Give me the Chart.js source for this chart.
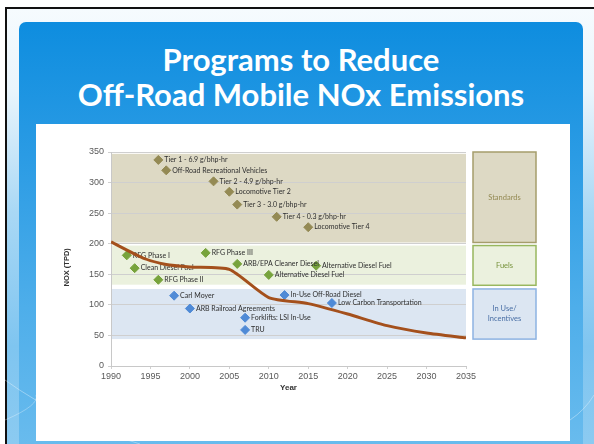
<!DOCTYPE html>
<html>
<head>
<meta charset="utf-8">
<script src="https://cdn.jsdelivr.net/npm/chart.js@4/dist/chart.umd.min.js"></script>
<style>
  html, body { margin:0; padding:0; }
  body { width:594px; height:444px; overflow:hidden; background:#ffffff; position:relative; font-family:"Lato", sans-serif; }
  #frame { position:absolute; left:5px; top:7px; width:600px; height:450px; border-left:2px solid #111; border-top:2px solid #111;
    background:linear-gradient(to bottom, #f6fbfe 0%, #eaf5fc 18%, #a9d8f5 45%, #7fc5f0 75%, #8dcbf1 100%); }
  #panel { position:absolute; left:19px; top:22px; width:564px; height:440px; border-radius:7px 7px 0 0;
    background:linear-gradient(to bottom, #0e8ddf 0%, #2a9be4 30%, #4eaeea 65%, #6cbdee 100%); }
  #title { position:absolute; left:19px; top:42px; width:564px; text-align:center; color:#ffffff;
    font-family:"Lato", sans-serif; font-weight:bold; font-size:31px; line-height:35px; }
  #white { position:absolute; left:36px; top:124px; width:534px; height:317px; background:#ffffff; }
  #wrap { position:absolute; left:36px; top:124px; width:534px; height:318px; }
  svg.deco { position:absolute; left:0; top:0; }
</style>
</head>
<body>
<div id="frame"></div>
<div id="panel"></div>
<svg class="deco" width="594" height="444">
  <path d="M5 380 Q 60 420 140 444" stroke="rgba(255,255,255,0.35)" stroke-width="1" fill="none"/>
  <path d="M5 420 Q 40 405 36 395" stroke="rgba(255,255,255,0.3)" stroke-width="1" fill="none"/>
  <path d="M570 420 Q 585 410 594 395" stroke="rgba(255,255,255,0.35)" stroke-width="1" fill="none"/>
</svg>
<div id="title">Programs to Reduce<br>Off-Road Mobile NOx Emissions</div>
<div id="white"></div>
<div id="wrap"><canvas id="c" width="534" height="318"></canvas></div>
<script>
// ---- Data ----
const standardsLabels = ['Tier 1 - 6.9 g/bhp-hr','Off-Road Recreational Vehicles','Tier 2 - 4.9 g/bhp-hr','Locomotive Tier 2','Tier 3 - 3.0 g/bhp-hr','Tier 4 - 0.3 g/bhp-hr','Locomotive Tier 4'];
const standardsYears  = [1996, 1997, 2003, 2005, 2006, 2011, 2015];
const standardsValues = [337, 320, 302, 285, 264, 244, 227];

const fuelsLabels = ['RFG Phase I','Clean Diesel Fuel','RFG Phase II','RFG Phase III','ARB/EPA Cleaner Diesel','Alternative Diesel Fuel','Alternative Diesel Fuel'];
const fuelsYears  = [1992, 1993, 1996, 2002, 2006, 2010, 2016];
const fuelsValues = [181, 160, 141, 185, 167, 149, 164];

const inUseLabels = ['Carl Moyer','ARB Railroad Agreements','Forklifts: LSI In-Use','TRU','In-Use Off-Road Diesel','Low Carbon Transportation'];
const inUseYears  = [1998, 2000, 2007, 2007, 2012, 2018];
const inUseValues = [115, 94, 79, 59, 116, 103];

const trendYears  = [1990, 1994, 1997, 2000, 2005, 2010, 2015, 2020, 2025, 2030, 2035];
const trendValues = [203, 177, 166, 162, 158, 112, 102, 85, 66, 54, 46];

const bandNames  = ['Standards', 'Fuels', 'In Use/\nIncentives'];
const bandRanges = [[202, 347], [133, 197], [44, 126]];
const boxRanges  = [[202, 350], [132, 197], [44, 126]];

const xTickValues = [1990, 1995, 2000, 2005, 2010, 2015, 2020, 2025, 2030, 2035];

// ---- Styles ----
const bandFills   = ['#ddd9c4', '#ebf1de', '#dce6f2'];
const boxBorders  = ['#a59d6b', '#98b75e', '#8db3e2'];
const boxText     = ['#948a54', '#77933c', '#4a6fa5'];
const pointColors = ['#948a54', '#77a33c', '#4f8ad6'];

function pts(xs, ys) { return xs.map((x, i) => ({x: x, y: ys[i]})); }

const bandsPlugin = {
  id: 'bands',
  beforeDraw(chart) {
    const {ctx, chartArea: a, scales: {y}} = chart;
    ctx.save();
    bandRanges.forEach((r, i) => {
      const top = y.getPixelForValue(r[1]), bot = y.getPixelForValue(r[0]);
      ctx.fillStyle = bandFills[i];
      ctx.fillRect(a.left + 1, top, a.right - a.left - 1, bot - top);
    });
    boxRanges.forEach((r, i) => {
      const top = y.getPixelForValue(r[1]), bot = y.getPixelForValue(r[0]);
      const bx = a.right + 7, bw = 63;
      ctx.fillStyle = bandFills[i];
      ctx.fillRect(bx, top, bw, bot - top);
      ctx.strokeStyle = boxBorders[i];
      ctx.lineWidth = 1.5;
      ctx.strokeRect(bx, top, bw, bot - top);
      ctx.fillStyle = boxText[i];
      ctx.font = '7.5px Lato, sans-serif';
      ctx.textAlign = 'center';
      ctx.textBaseline = 'middle';
      const lines = bandNames[i].split('\n');
      const cy = (top + bot) / 2;
      lines.forEach((t, k) => ctx.fillText(t, bx + bw / 2, cy + (k - (lines.length - 1) / 2) * 10));
    });
    ctx.restore();
  }
};

const labelsPlugin = {
  id: 'ptlabels',
  afterDatasetDraw(chart, args) {
    const ds = chart.data.datasets[args.index];
    if (!ds.pointLabels) return;
    const ctx = chart.ctx;
    ctx.save();
    ctx.font = '7px Lato, sans-serif';
    ctx.fillStyle = '#2e2e2e';
    ctx.textAlign = 'left';
    ctx.textBaseline = 'middle';
    args.meta.data.forEach((el, i) => ctx.fillText(ds.pointLabels[i], el.x + 6, el.y));
    ctx.restore();
  }
};

const tickFont = {family: '"Liberation Sans", Arial, sans-serif', size: 9};

new Chart(document.getElementById('c'), {
  type: 'scatter',
  data: {
    datasets: [
      { label: 'NOx', type: 'line', data: pts(trendYears, trendValues), borderColor: '#a4501c', borderWidth: 3,
        pointRadius: 0, tension: 0.2, fill: false, order: 0 },
      { label: 'Standards', data: pts(standardsYears, standardsValues), pointLabels: standardsLabels,
        pointStyle: 'rectRot', pointRadius: 4.5, backgroundColor: pointColors[0], borderColor: pointColors[0], order: 1 },
      { label: 'Fuels', data: pts(fuelsYears, fuelsValues), pointLabels: fuelsLabels,
        pointStyle: 'rectRot', pointRadius: 4.5, backgroundColor: pointColors[1], borderColor: pointColors[1], order: 1 },
      { label: 'In Use', data: pts(inUseYears, inUseValues), pointLabels: inUseLabels,
        pointStyle: 'rectRot', pointRadius: 4.5, backgroundColor: pointColors[2], borderColor: pointColors[2], order: 1 }
    ]
  },
  options: {
    responsive: false,
    animation: false,
    devicePixelRatio: 1,
    layout: { padding: { left: 22, top: 28, right: 104, bottom: 45 } },
    plugins: { legend: { display: false }, tooltip: { enabled: false } },
    scales: {
      x: {
        type: 'linear', min: 1990, max: 2035,
        afterBuildTicks(s) { s.ticks = xTickValues.map(v => ({value: v})); },
        afterFit(s) { s.height = 31; },
        grid: { display: true, drawOnChartArea: false, drawTicks: true, tickLength: 3, color: '#d0d0d0' },
        border: { color: '#c8c8c8' },
        ticks: { font: tickFont, color: '#595959', padding: 2, maxRotation: 0, callback: v => String(v) },
        title: { display: true, text: 'Year', font: {family: '"Liberation Sans", Arial, sans-serif', size: 8, weight: 'bold'}, color: '#333333', padding: {top: 0, bottom: 4} }
      },
      y: {
        min: 0, max: 350,
        afterFit(s) { s.width = 53; },
        grid: { color: '#cfcfcf', drawTicks: true, tickLength: 3 },
        border: { color: '#c8c8c8' },
        ticks: { stepSize: 50, font: tickFont, color: '#595959', padding: 4 },
        title: { display: true, text: 'NOX (TPD)\u00a0\u00a0\u00a0\u00a0\u00a0\u00a0\u00a0\u00a0', font: {family: '"Liberation Sans", Arial, sans-serif', size: 7.5, weight: 'bold'}, color: '#333333', padding: {top: 4, bottom: 4} }
      }
    }
  },
  plugins: [bandsPlugin, labelsPlugin]
});
</script>
</body>
</html>
